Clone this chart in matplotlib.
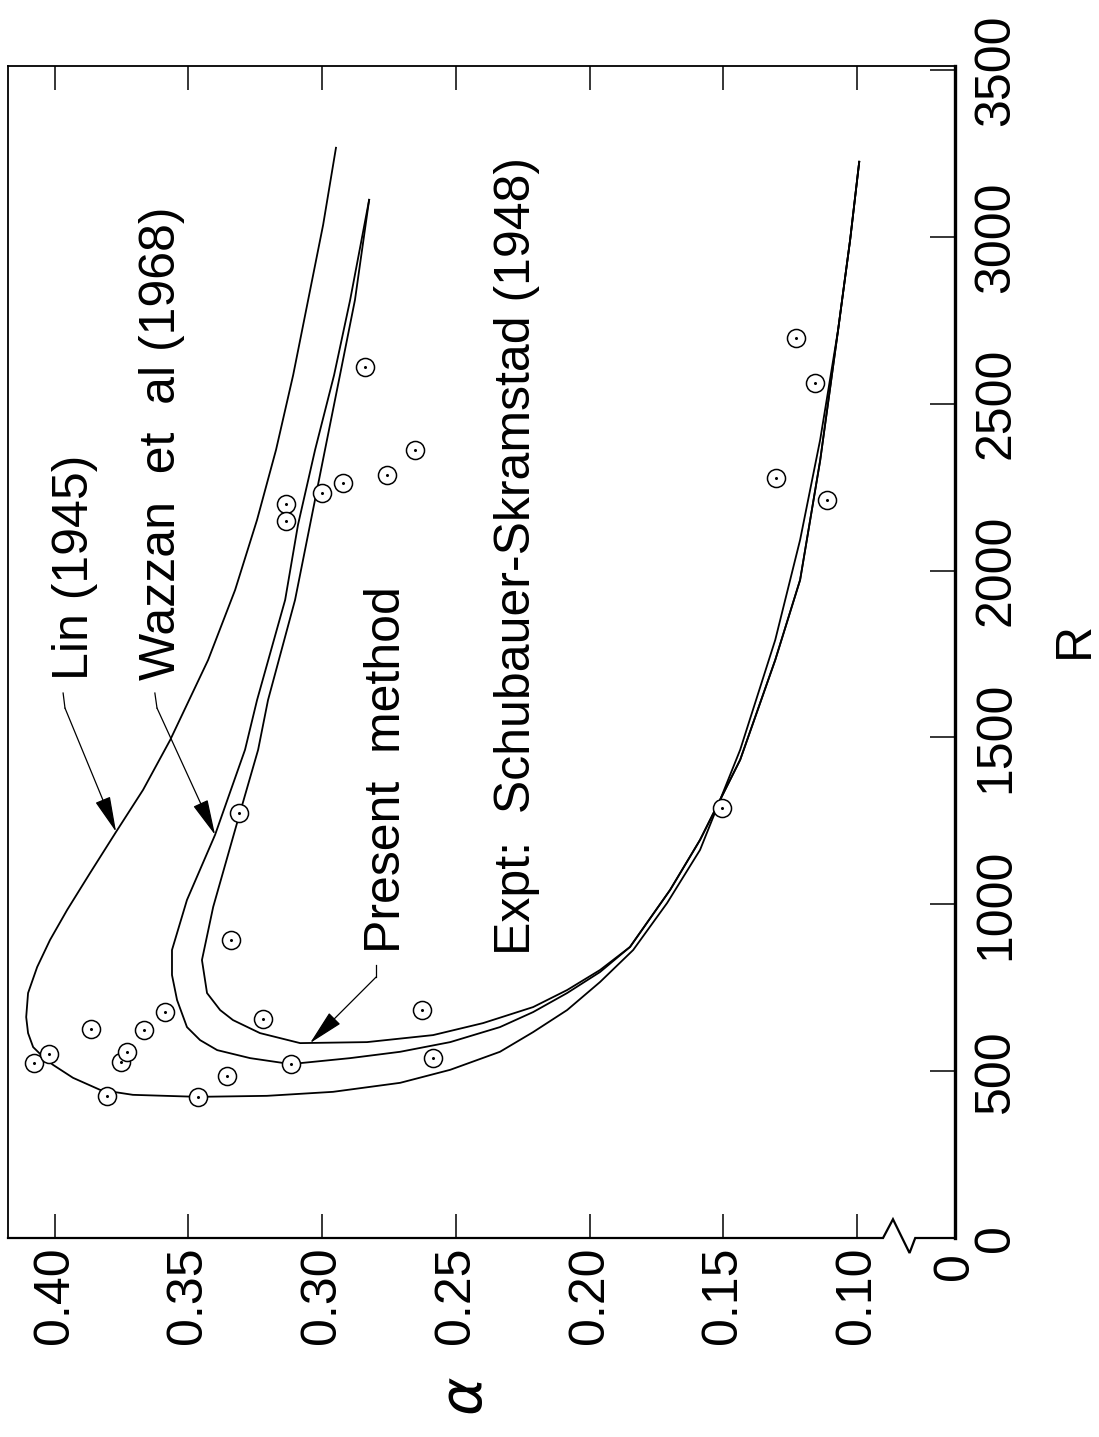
import matplotlib
matplotlib.use("Agg")
import matplotlib.pyplot as plt
from matplotlib.lines import Line2D

plt.rcParams['font.family'] = ['Liberation Sans', 'DejaVu Sans']

# Lin (1945) neutral curve: upper branch -> nose -> lower branch
lin_alpha = [0.2948, 0.2996, 0.3052, 0.3108, 0.3172, 0.3243, 0.3325, 0.3426, 0.3497,
             0.3568, 0.3669, 0.3770, 0.3867, 0.3953, 0.4017, 0.4065, 0.4099, 0.4106,
             0.4099, 0.4080, 0.4043, 0.4006, 0.3931, 0.3830, 0.3707, 0.3464, 0.3206,
             0.2959, 0.2708, 0.2521, 0.2335, 0.2211, 0.2084, 0.1961, 0.1837, 0.1710,
             0.1587, 0.1437, 0.1306, 0.1213, 0.1138, 0.1071, 0.1026, 0.0992]
lin_R = [3267, 3036, 2811, 2586, 2362, 2152, 1942, 1732, 1612,
         1492, 1343, 1217, 1094, 983, 893, 812, 734, 662,
         614, 572, 543, 519, 480, 444, 429, 423, 426,
         438, 465, 504, 558, 617, 683, 767, 863, 1004,
         1163, 1463, 1792, 2092, 2392, 2721, 2991, 3225]

# Wazzan et al (1968)
waz_alpha = [0.2824, 0.2895, 0.2955, 0.3026, 0.3090, 0.3138, 0.3243, 0.3288, 0.3400,
             0.3505, 0.3561, 0.3561, 0.3542, 0.3505, 0.3456, 0.3392, 0.3269, 0.3116,
             0.3082, 0.2895, 0.2708, 0.2521, 0.2335, 0.2211, 0.2084, 0.1961, 0.1849,
             0.1699, 0.1587, 0.1437, 0.1306, 0.1213, 0.1138, 0.1071, 0.1026, 0.0992]
waz_R = [3111, 2811, 2586, 2362, 2137, 1912, 1612, 1463, 1208,
         1013, 863, 788, 713, 632, 593, 563, 539, 521,
         524, 539, 558, 587, 632, 677, 734, 797, 872,
         1043, 1193, 1433, 1732, 1972, 2330, 2721, 2991, 3225]

# Present method
pres_alpha = [0.2824, 0.2877, 0.2933, 0.2989, 0.3045, 0.3101, 0.3202, 0.3239, 0.3307,
              0.3407, 0.3449, 0.3430, 0.3381, 0.3333, 0.3232, 0.3082, 0.2832, 0.2585,
              0.2398, 0.2211, 0.2084, 0.1961, 0.1849, 0.1699, 0.1587, 0.1437, 0.1306,
              0.1213, 0.1138, 0.1071, 0.1026, 0.0992]
pres_R = [3111, 2811, 2586, 2362, 2137, 1912, 1612, 1463, 1274,
          992, 833, 734, 683, 653, 614, 584, 587, 608,
          644, 692, 743, 803, 872, 1043, 1193, 1433, 1732,
          1972, 2330, 2721, 2991, 3225]

# Expt: Schubauer-Skramstad (1948)
exp_alpha = [0.4077, 0.4021, 0.3864, 0.3804, 0.3751, 0.3729, 0.3665, 0.3587, 0.3464,
             0.3355, 0.3221, 0.3116, 0.2626, 0.2585, 0.3310, 0.3340, 0.3135, 0.3135,
             0.3000, 0.2922, 0.2757, 0.2839, 0.2652, 0.1504, 0.1303, 0.1228, 0.1157, 0.1112]
exp_R = [524, 551, 626, 426, 527, 557, 623, 677, 423,
         486, 656, 521, 683, 539, 1274, 893, 2200, 2149,
         2233, 2263, 2287, 2611, 2362, 1289, 2278, 2697, 2563, 2212]

alpha_ticks = [0.40, 0.35, 0.30, 0.25, 0.20, 0.15, 0.10]
alpha_labels = ['0.40', '0.35', '0.30', '0.25', '0.20', '0.15', '0.10']
R_ticks = [0, 500, 1000, 1500, 2000, 2500, 3000, 3500]
R_labels = ['0', '500', '1000', '1500', '2000', '2500', '3000', '3500']

fig = plt.figure(figsize=(10.99, 14.37), dpi=100)
ax = fig.add_axes([8/1099, 1 - 1238/1437, 947/1099, 1172/1437])
ax.set_xlim(0.4174, 0.0634)
ax.set_ylim(0, 3512)

for a, r in [(lin_alpha, lin_R), (waz_alpha, waz_R), (pres_alpha, pres_R)]:
    ax.plot(a, r, color='black', lw=1.3, solid_joinstyle='round')

ax.plot(exp_alpha, exp_R, 'o', ms=13, mfc='white', mec='black', mew=1.1, zorder=3)
ax.plot(exp_alpha, exp_R, 'o', ms=1.2, color='black', zorder=4)

# ticks
fs = 36
ax.set_xticks(alpha_ticks)
ax.set_xticklabels(alpha_labels)
ax.set_yticks(R_ticks)
ax.set_yticklabels(R_labels)
ax.tick_params(axis='x', which='both', top=True, bottom=True, direction='in',
               length=17, width=1.1, pad=6, labelsize=fs, labelrotation=90)
ax.tick_params(axis='y', which='both', left=False, right=True, labelleft=False,
               labelright=True, direction='in', length=18, width=1.1, pad=13,
               labelsize=fs, labelrotation=90)
for lb in ax.get_yticklabels():
    lb.set_va('center')
    lb.set_ha('left')
    lb.set_rotation_mode('default')

ax.spines['bottom'].set_visible(False)
ax.spines['right'].set_linewidth(2.4)
ax.spines['top'].set_linewidth(1.3)
ax.spines['left'].set_linewidth(1.3)

# bottom spine with axis break near the origin
bx = [0.0, 0.924, 0.9345, 0.952, 0.958, 1.0]
by = [0.0, 0.0, 0.016, -0.0128, 0.0, 0.0]
ax.add_line(Line2D(bx, by, transform=ax.transAxes, color='black', lw=1.6,
                   clip_on=False, solid_joinstyle='miter'))
ax.text(1.0, -0.012, '0', transform=ax.transAxes, rotation=90, fontsize=fs,
        ha='center', va='top')

# axis labels
ax.text(1.127, 0.51, 'R', transform=ax.transAxes, rotation=90, fontsize=fs,
        ha='center', va='center')
ax.text(0.485, -0.135, r'$\alpha$', transform=ax.transAxes, rotation=90,
        fontsize=fs + 6, ha='center', va='center')

# curve labels
txt = dict(rotation=90, rotation_mode='anchor', ha='left', va='baseline', fontsize=fs)
ax.text(0.3875, 1672, 'Lin (1945)', **txt)
ax.text(0.3550, 1672, 'Wazzan  et  al (1968)', **txt)
ax.text(0.2709, 854, 'Present  method', **txt)
ax.text(0.2223, 848, 'Expt:  Schubauer-Skramstad (1948)', **txt)

# leader lines with arrows
arrow = dict(arrowstyle='-|>,head_length=0.9,head_width=0.2', color='black',
             lw=0.9, mutation_scale=25, shrinkA=0, shrinkB=0)
leaders = [((0.3968, 1633), (0.3961, 1588), (0.3770, 1217)),
           ((0.3625, 1633), (0.3617, 1588), (0.3400, 1208)),
           ((0.2798, 818), (0.2798, 782), (0.3045, 584))]
for p0, p1, tip in leaders:
    ax.plot([p0[0], p1[0]], [p0[1], p1[1]], color='black', lw=0.9)
    ax.annotate('', xy=tip, xytext=p1, arrowprops=arrow)

fig.savefig('out.png', dpi=100)
